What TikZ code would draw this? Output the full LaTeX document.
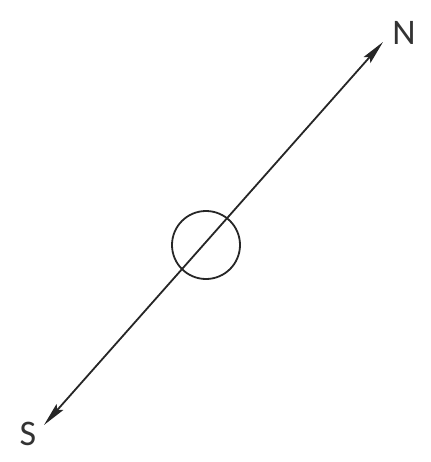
\documentclass[tikz,border=0pt]{standalone}
\usepackage{fontspec}
\setmainfont{Carlito}
\usetikzlibrary{arrows.meta}
\begin{document}
\begin{tikzpicture}[x=1pt,y=-1pt,
  axis/.style={line width=1.8pt,draw=black!85,{Stealth[length=24pt,width=9pt,inset=4pt]}-{Stealth[length=24pt,width=9pt,inset=4pt]}},
  ring/.style={circle,draw=black!85,line width=1.8pt,minimum size=68pt,inner sep=0pt},
  lbl/.style={font=\fontsize{36}{36}\selectfont,text=black!80,inner sep=0pt}]
\useasboundingbox (0,0) rectangle (430,462);
\node[ring] (c) at (206,245) {};
\coordinate (n) at (383,42);
\coordinate (s) at (44,425);
\draw[axis] (s) -- (n);
\node[lbl] (N) at (404,33) {N};
\node[lbl] (S) at (28,434) {S};
\end{tikzpicture}
\end{document}
